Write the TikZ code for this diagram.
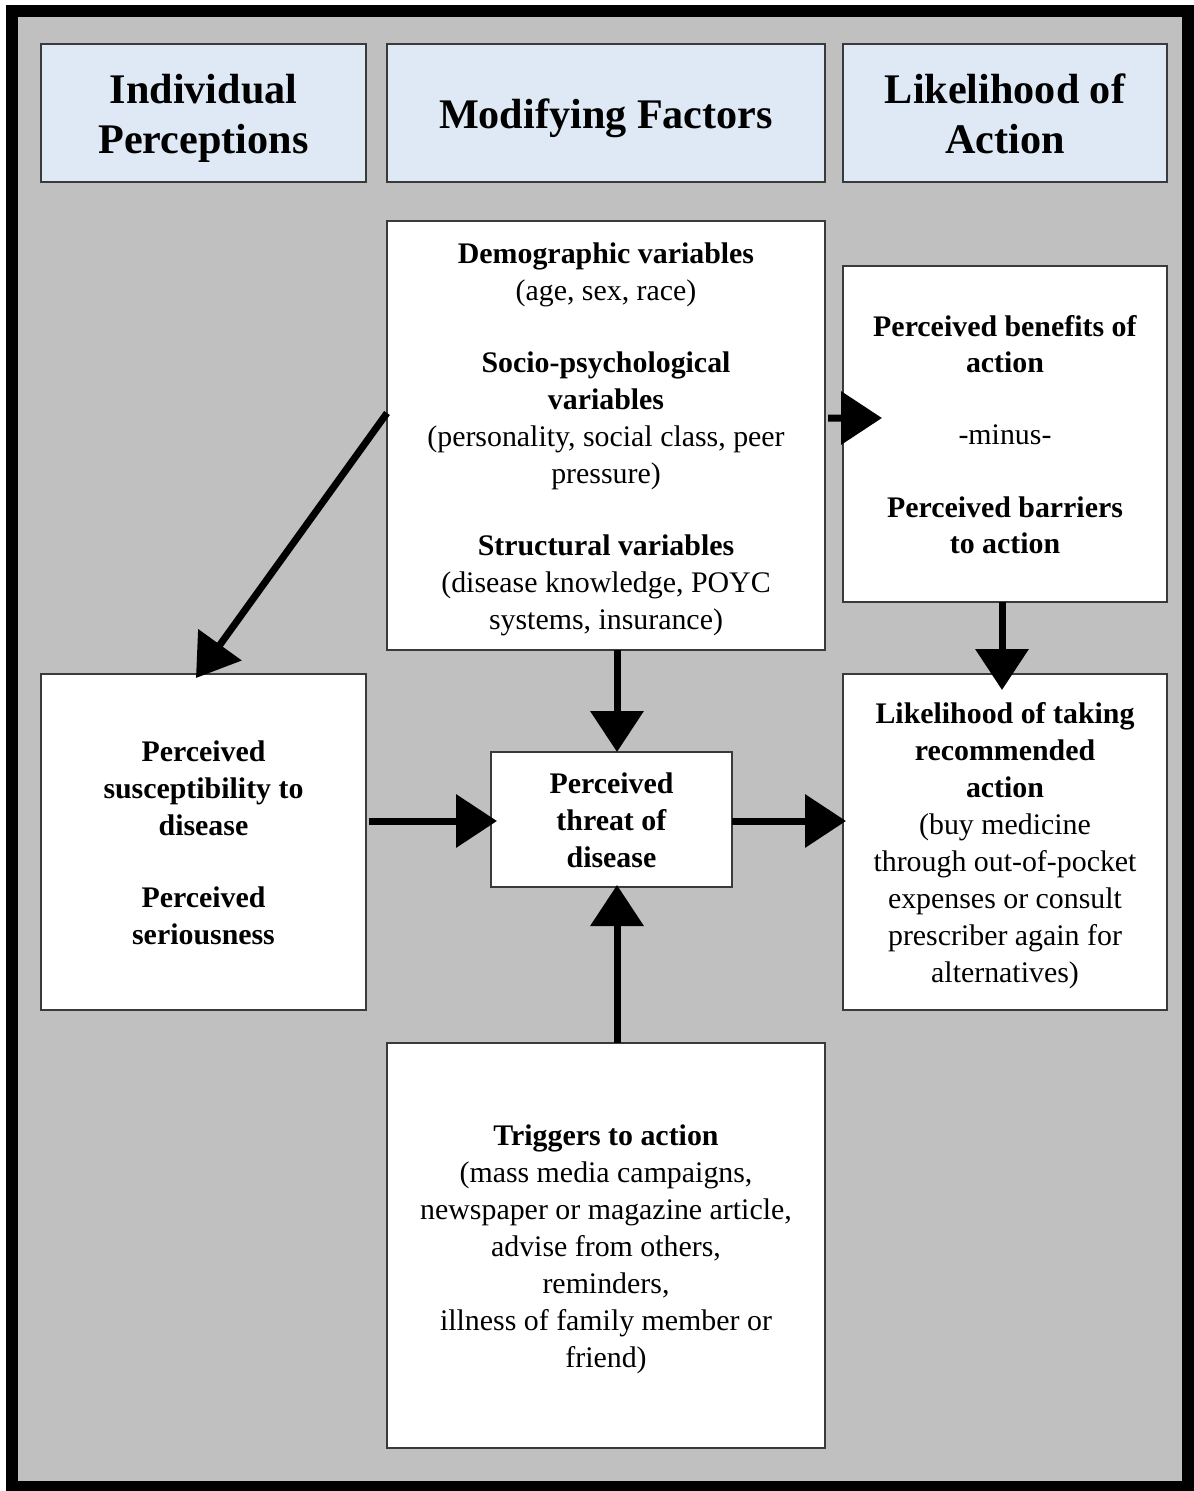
\documentclass[tikz,border=0pt]{standalone}
\usepackage{fontspec}
\setmainfont{Liberation Serif}
\usetikzlibrary{arrows.meta, positioning, calc}
\definecolor{frameGray}{HTML}{C0C0C0}
\definecolor{headBlue}{HTML}{DEE9F5}
\definecolor{edgeGray}{HTML}{3A3A3A}
\newcommand{\hdrstrut}{\rule[-5.2pt]{0pt}{28pt}}
\newcommand{\bodystrut}{\rule[-3.7pt]{0pt}{19.9pt}}
\tikzset{
    hdr_box/.style={
        rectangle, draw=edgeGray, line width=0.6pt, fill=headBlue,
        minimum height=2.76cm, inner sep=2pt, outer sep=0pt,
        align=flush center, font=\fontsize{24}{28}\selectfont\bfseries,
        execute at begin node=\hdrstrut, execute at end node=\hdrstrut
    },
    body_box/.style={
        rectangle, draw=edgeGray, line width=0.6pt, fill=white,
        inner sep=2pt, outer sep=0pt,
        align=flush center, font=\fontsize{17}{21}\selectfont,
        execute at begin node=\bodystrut, execute at end node=\bodystrut
    },
    big_arrow/.style={
        -{Triangle[length=0.82cm, width=1.04cm]}, line width=0.14cm, draw=black
    }
}

\begin{document}
\begin{tikzpicture}

    \useasboundingbox (0,0) rectangle (23.86,-29.82);

    % Outer frame
    \draw[line width=0.24cm, fill=frameGray] (0.24,-0.22) rectangle (23.75,-29.74);

    % Column headers
    \node[hdr_box, minimum width=6.5cm, text width=6.2cm] (hdr_indiv) at (4.07,-2.26) {Individual\\Perceptions};
    \node[hdr_box, minimum width=8.76cm, text width=8.4cm] (hdr_modif) at (12.12,-2.26) {Modifying Factors};
    \node[hdr_box, minimum width=6.48cm, text width=6.2cm] (hdr_likely) at (20.10,-2.26) {Likelihood of\\Action};

    % Modifying factors (top middle)
    \node[body_box, minimum width=8.76cm, text width=8.4cm, minimum height=8.58cm] (demo) at (12.12,-8.71) {
        \textbf{Demographic variables}\\(age, sex, race)\\[20pt]
        \textbf{Socio-psychological}\\\textbf{variables}\\(personality, social class, peer\\pressure)\\[20pt]
        \textbf{Structural variables}\\(disease knowledge, POYC\\systems, insurance)
    };

    % Benefits minus barriers
    \node[body_box, minimum width=6.48cm, text width=6.2cm, minimum height=6.72cm] (benefit) at (20.10,-8.68) {
        \textbf{Perceived benefits of}\\\textbf{action}\\[20pt]
        -minus-\\[20pt]
        \textbf{Perceived barriers}\\\textbf{to action}
    };

    % Individual perceptions
    \node[body_box, minimum width=6.5cm, text width=6.2cm, minimum height=6.72cm] (percep) at (4.07,-16.84) {
        \textbf{Perceived}\\\textbf{susceptibility to}\\\textbf{disease}\\[20pt]
        \textbf{Perceived}\\\textbf{seriousness}
    };

    % Perceived threat
    \node[body_box, minimum width=4.82cm, text width=4.5cm, minimum height=2.70cm] (threat) at (12.23,-16.39) {
        \textbf{Perceived}\\\textbf{threat of}\\\textbf{disease}
    };

    % Likelihood of action
    \node[body_box, minimum width=6.48cm, text width=6.2cm, minimum height=6.72cm] (likeli) at (20.10,-16.84) {
        \textbf{Likelihood of taking}\\\textbf{recommended}\\\textbf{action}\\
        (buy medicine\\through out-of-pocket\\expenses or consult\\prescriber again for\\alternatives)
    };

    % Triggers
    \node[body_box, minimum width=8.76cm, text width=8.4cm, minimum height=8.10cm] (trigger) at (12.12,-24.91) {
        \textbf{Triggers to action}\\(mass media campaigns,\\newspaper or magazine article,\\
        advise from others,\\reminders,\\illness of family member or\\friend)
    };

    % Connectors
    \coordinate (midcol) at (12.34,0);
    \draw[big_arrow] ([yshift=0.45cm]demo.west) -- ([xshift=3.1cm,yshift=-0.08cm]percep.north west);
    \draw[big_arrow] ([xshift=0.06cm,yshift=0.35cm]demo.east) -- ([xshift=0.78cm,yshift=0.32cm]benefit.west);
    \draw[big_arrow] (demo.south -| midcol) -- (threat.north -| midcol);
    \draw[big_arrow] ([xshift=-0.06cm]benefit.south) -- ([xshift=-0.06cm,yshift=-0.32cm]likeli.north);
    \draw[big_arrow] ($(percep.east |- threat.west)+(0.06,-0.03)$) -- ($(threat.west)+(0.12,-0.03)$);
    \draw[big_arrow] ($(threat.east)+(0,-0.03)$) -- ($(likeli.west |- threat.east)+(0.06,-0.03)$);
    \draw[big_arrow] (trigger.north -| midcol) -- ($(threat.south -| midcol)+(0,0.04)$);

\end{tikzpicture}
\end{document}
